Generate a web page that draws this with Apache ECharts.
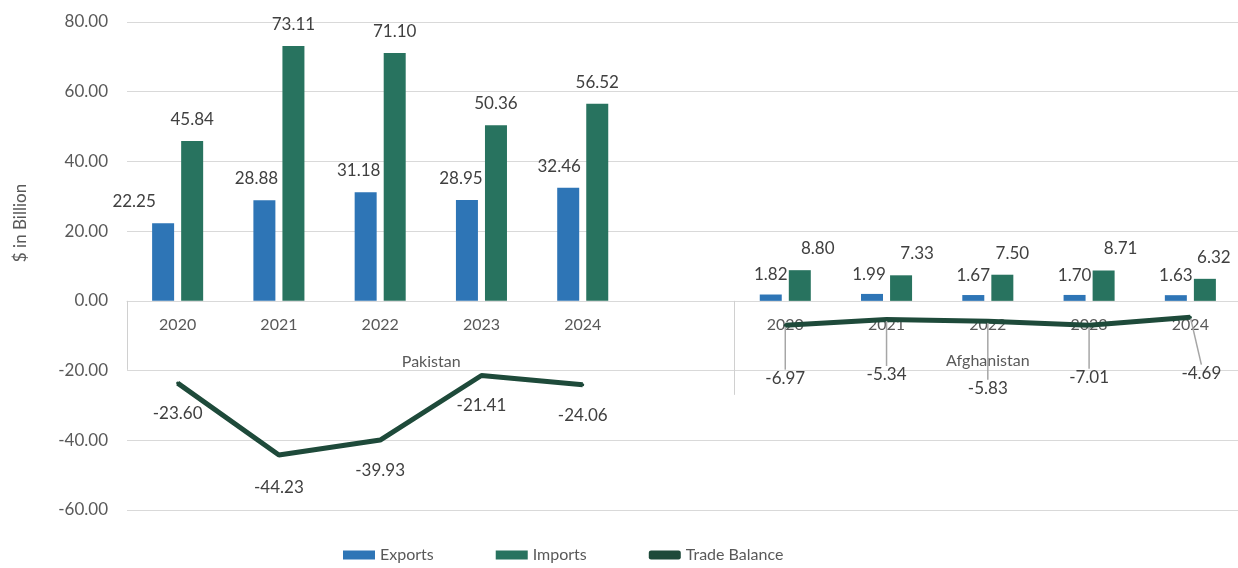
<!DOCTYPE html>
<html>
<head>
<meta charset="utf-8">
<script src="https://cdn.jsdelivr.net/npm/echarts@6/dist/echarts.min.js"></script>
<style>
html,body{margin:0;padding:0;background:#fff;}
#chart{width:1238px;height:568px;}
</style>
</head>
<body>
<div id="chart"></div>
<script>
// ---- data ----
const categories = ['P2020','P2021','P2022','P2023','P2024','gap','A2020','A2021','A2022','A2023','A2024'];
const yearLabels = ['2020','2021','2022','2023','2024','','2020','2021','2022','2023','2024'];
const groupNames = ['Pakistan','Afghanistan'];
const exportsData = [22.25, 28.88, 31.18, 28.95, 32.46, null, 1.82, 1.99, 1.67, 1.70, 1.63];
const importsData = [45.84, 73.11, 71.10, 50.36, 56.52, null, 8.80, 7.33, 7.50, 8.71, 6.32];
const balanceData = [-23.60, -44.23, -39.93, -21.41, -24.06, null, -6.97, -5.34, -5.83, -7.01, -4.69];
const yMin = -60, yMax = 80, yStep = 20;

// ---- label placement (styling, not data) ----
const balanceLabelShift = [[0,30],[0,32],[0,30],[0,30],[0,31],[0,0],[0,53],[0,55],[0,67],[0,52],[11,56]];
const balanceLeader = [false,false,false,false,false,false,true,true,true,true,true];
const exportLabelShift = [[-29,0],[-8,0],[-7,0],[-6,0],[-9,0],[0,0],[0,2],[-3,2],[0,2],[0,2],[0,2]];
const importLabelShift = [[0,0],[0,0],[0,0],[0,0],[0,0],[0,0],[18,0],[16,0],[10,0],[17,0],[9,0]];

const FONT = 'Lato';
const TXT = '#595959';
const W = 1238, H = 568;
const GRID = { left: 127, top: 22, width: 1114, bottom: 58 };
const gridH = H - GRID.top - GRID.bottom;
// place the category axis on the value-axis zero line
const zeroOffset = -gridH * (0 - yMin) / (yMax - yMin);
// boundary positions between categories (used for group separator ticks)
const boundaryKeys = categories.map((c) => 'b_' + c).concat(['b_end']);

const chart = echarts.init(document.getElementById('chart'));
const option = {
  animation: false,
  textStyle: { fontFamily: FONT },
  grid: Object.assign({ outerBoundsMode: 'none', containLabel: false }, GRID),
  legend: {
    bottom: 0, left: 338,
    itemWidth: 32, itemHeight: 9, itemGap: 62,
    textStyle: { fontSize: 16, color: TXT, fontFamily: FONT },
    data: [
      { name: 'Exports', icon: 'rect' },
      { name: 'Imports', icon: 'rect' },
      { name: 'Trade Balance', icon: 'roundRect' }
    ]
  },
  xAxis: [
    {
      type: 'category', data: categories, position: 'bottom', offset: zeroOffset,
      axisLine: { onZero: false, lineStyle: { color: '#d9d9d9', width: 1 } },
      axisTick: { show: false },
      axisLabel: { interval: 0, margin: 14, fontSize: 16, color: TXT, fontFamily: FONT,
        formatter: (v, i) => {
          if (i === 2) return '{y|' + yearLabels[i] + '}\n{p|' + groupNames[0] + '}';
          if (i === 8) return '{y|' + yearLabels[i] + '}\n{a|' + groupNames[1] + '}';
          return '{y|' + yearLabels[i] + '}';
        },
        rich: {
          y: { align: 'center', fontSize: 16, color: TXT, fontFamily: FONT, lineHeight: 20 },
          p: { align: 'center', fontSize: 16, color: TXT, fontFamily: FONT, lineHeight: 20, padding: [33, 0, 0, 102] },
          a: { align: 'center', fontSize: 16, color: TXT, fontFamily: FONT, lineHeight: 20, padding: [32, 0, 0, 0] }
        } }
    },
    {
      type: 'category', data: boundaryKeys, boundaryGap: false, position: 'bottom', offset: zeroOffset,
      axisLine: { show: false, onZero: false },
      axisTick: { show: true, interval: (i) => i === 0, length: 69, lineStyle: { color: '#d0d0d0' } },
      axisLabel: { show: false }
    },
    {
      type: 'category', data: boundaryKeys, boundaryGap: false, position: 'bottom', offset: zeroOffset,
      axisLine: { show: false, onZero: false },
      axisTick: { show: true, interval: (i) => i === 6, length: 94, lineStyle: { color: '#d0d0d0' } },
      axisLabel: { show: false }
    }
  ],
  yAxis: {
    type: 'value', min: yMin, max: yMax, interval: yStep,
    name: '$ in Billion', nameLocation: 'middle', nameGap: 98, nameRotate: 90,
    nameTextStyle: { fontSize: 17, color: TXT, fontFamily: FONT, padding: [0, 0, 0, 86] },
    axisLine: { show: false, onZero: false }, axisTick: { show: false },
    axisLabel: { margin: 19, fontSize: 17, color: TXT, fontFamily: FONT, formatter: (v) => v.toFixed(2) },
    splitLine: { lineStyle: { color: '#d9d9d9', width: 1 } }
  },
  series: [
    {
      name: 'Exports', type: 'bar', barWidth: 22, barGap: '32%',
      itemStyle: { color: '#2E75B6' },
      data: exportsData.map((v, i) => ({ value: v, label: { offset: exportLabelShift[i] } })),
      label: { show: true, position: 'top', distance: 13, fontSize: 17, color: '#404040', fontFamily: FONT,
        formatter: (p) => p.value == null ? '' : p.value.toFixed(2) }
    },
    {
      name: 'Imports', type: 'bar', barWidth: 22,
      itemStyle: { color: '#28735F' },
      data: importsData.map((v, i) => ({ value: v, label: { offset: importLabelShift[i] } })),
      label: { show: true, position: 'top', distance: 13, fontSize: 17, color: '#404040', fontFamily: FONT,
        formatter: (p) => p.value == null ? '' : p.value.toFixed(2) }
    },
    {
      name: 'Trade Balance', type: 'line', z: 5,
      showSymbol: true, symbol: 'circle', symbolSize: 3, connectNulls: false,
      lineStyle: { color: '#1E4A3A', width: 5 },
      itemStyle: { color: '#1E4A3A' },
      data: balanceData.map((v, i) => ({ value: v, labelLine: { show: balanceLeader[i] } })),
      label: { show: true, position: 'inside', fontSize: 17, color: '#404040', fontFamily: FONT,
        formatter: (p) => p.value == null ? '' : p.value.toFixed(2) },
      labelLayout: (params) => ({ dx: balanceLabelShift[params.dataIndex][0], dy: balanceLabelShift[params.dataIndex][1] }),
      labelLine: { show: true, lineStyle: { color: '#a6a6a6', width: 1.5 } }
    }
  ]
};
chart.setOption(option);
</script>
</body>
</html>
